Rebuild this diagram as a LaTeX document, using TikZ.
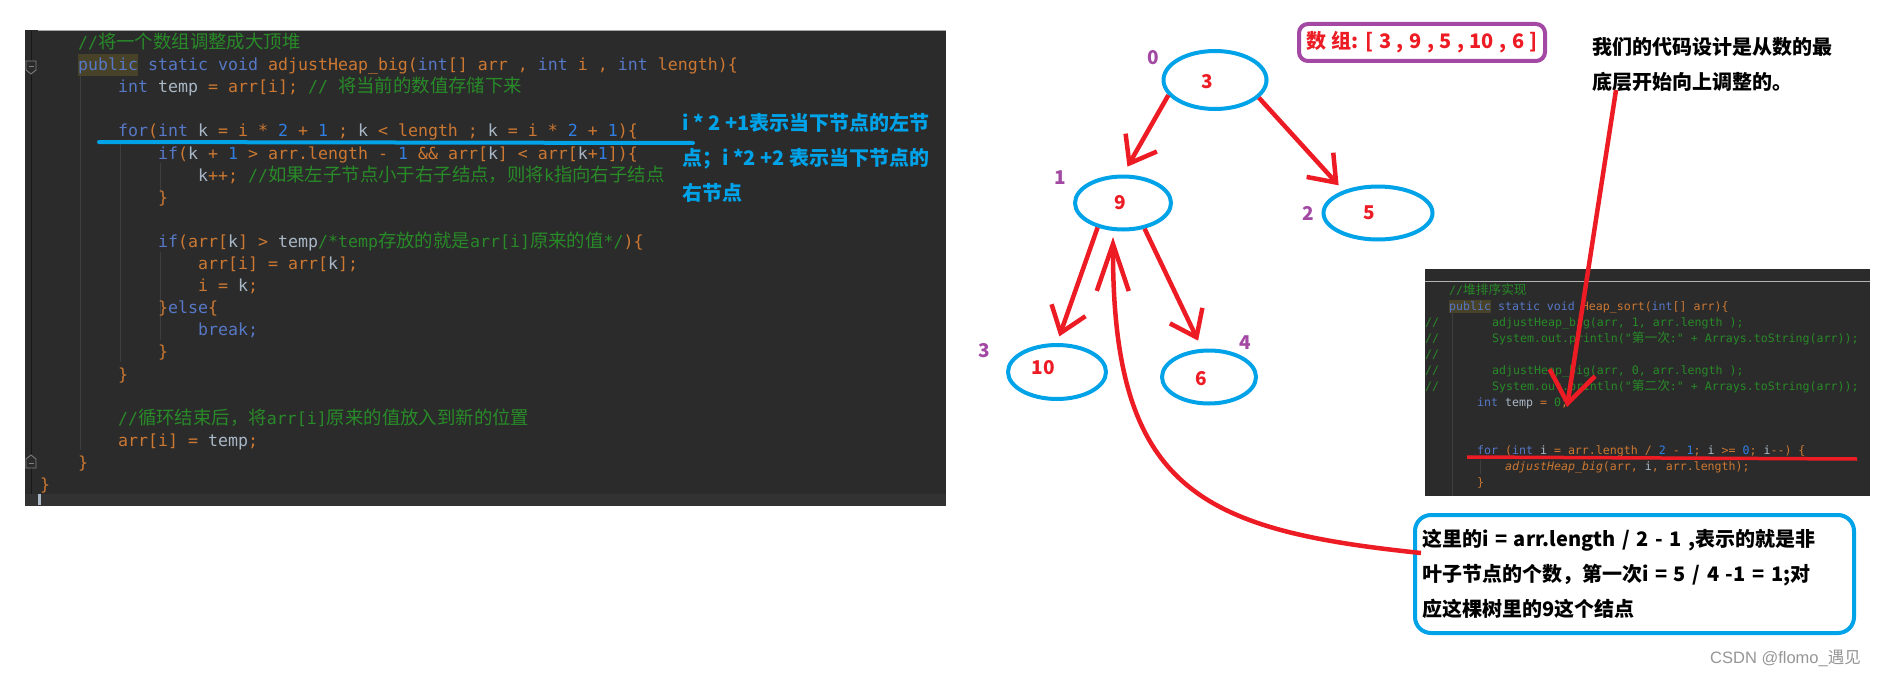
\documentclass[tikz,border=0pt]{standalone}
\usepackage{fontspec}
\setmonofont{DejaVu Sans Mono}[Ligatures=TeXOff]
\newfontfamily\cjk{Noto Sans CJK SC}
\newfontfamily\wmfont{Liberation Sans}
\usetikzlibrary{shapes.geometric,arrows.meta}
\definecolor{codebg}{RGB}{43,43,43}
\definecolor{codeband}{RGB}{50,50,50}
\definecolor{guidec}{RGB}{62,62,62}
\definecolor{kwc}{RGB}{86,120,198}
\definecolor{orc}{RGB}{204,120,50}
\definecolor{whc}{RGB}{169,183,198}
\definecolor{nmc}{RGB}{48,126,228}
\definecolor{cmc}{RGB}{40,138,40}
\definecolor{hlc}{RGB}{72,66,40}
\definecolor{redc}{RGB}{237,28,36}
\definecolor{bluec}{RGB}{0,162,232}
\definecolor{purc}{RGB}{163,73,164}
\definecolor{wmc}{RGB}{150,150,150}
\newcommand\ck[1]{\textcolor{kwc}{#1}}
\newcommand\co[1]{\textcolor{orc}{#1}}
\newcommand\cw[1]{\textcolor{whc}{#1}}
\newcommand\cn[1]{\textcolor{nmc}{#1}}
\newcommand\cg[1]{\textcolor{cmc}{#1}}
\newcommand\zh[1]{{\cjk\fontsize{18.4}{18.4}\selectfont #1}}
\newcommand\zs[1]{{\cjk\fontsize{12.7}{12.7}\selectfont #1}}
\begin{document}
\begin{tikzpicture}[x=1pt,y=-1pt,
  code/.style={anchor=base west, inner sep=0pt, text=orc, font=\ttfamily\fontsize{16.6}{16.6}\selectfont\frenchspacing},
  scode/.style={anchor=base west, inner sep=0pt, text=orc, font=\ttfamily\fontsize{11.6}{11.6}\selectfont\frenchspacing},
  tnode/.style={ellipse, draw=bluec, line width=4pt, inner sep=0pt},
  numlab/.style={text=redc, inner sep=0pt, font=\cjk\bfseries\fontsize{19}{19}\selectfont},
  idx/.style={text=purc, inner sep=0pt, font=\cjk\bfseries\fontsize{19}{19}\selectfont},
  note/.style={inner sep=0pt, align=left, font=\cjk\bfseries\fontsize{20}{35}\selectfont},
  redarrow/.style={draw=redc, line width=4.5pt, -{Straight Barb[length=24pt,width=36pt]}},
  guide/.style={draw=guidec, line width=1pt}
]
\useasboundingbox (0,0) rectangle (1879,677);
\fill[white] (0,0) rectangle (1879,677);

% ---------- main code screenshot ----------
\fill[codebg] (25,30) rectangle (946,506);
\fill[codeband] (25,494) rectangle (946,506);
\draw[gray!70, line width=1pt] (38,30.5) -- (946,30.5);
\draw[draw=guidec!120, line width=1pt] (31,31) -- (31,494);
\draw[gray, line width=0.8pt, fill=codebg] (26,61) -- (36,61) -- (36,70) -- (31,74) -- (26,70) -- cycle;
\draw[gray, line width=0.8pt] (28.5,66) -- (33.5,66);
\draw[gray, line width=0.8pt, fill=codebg] (26,468) -- (36,468) -- (36,459) -- (31,455) -- (26,459) -- cycle;
\draw[gray, line width=0.8pt] (28.5,463) -- (33.5,463);
\fill[whc] (38,494) rectangle (41,505);
\draw[guide] (80,75) -- (80,450);
\draw[guide] (120,140) -- (120,362);
\draw[guide] (160,163) -- (160,193);
\draw[guide] (160,252) -- (160,340);
\fill[hlc] (78,54) rectangle (138,76);

\node[code] (c0) at (78,48.5) {\cg{//\zh{将一个数组调整成大顶堆}}};
\node[code] (c1) at (78,70.6) {\ck{public static void} adjustHeap\_big(\ck{int}[] arr , \ck{int} i , \ck{int} length)\{};
\node[code] (c2) at (118,92.7) {\ck{int} \cw{temp} = arr[i]; \cg{// \zh{将当前的数值存储下来}}};
\node[code] (c4) at (118,136.9) {\ck{for}(\ck{int} \cw{k} = i * \cn{2} + \cn{1} ; \cw{k} < length ; \cw{k} = i * \cn{2} + \cn{1})\{};
\node[code] (c5) at (158,159.0) {\ck{if}(\cw{k} + \cn{1} > arr.length - \cn{1} \&\& arr[\cw{k}] < arr[\cw{k}+\cn{1}])\{};
\node[code] (c6) at (198,181.1) {\cw{k}++; \cg{//\zh{如果左子节点小于右子结点，则将}k\zh{指向右子结点}}};
\node[code] (c7) at (158,203.2) {\}};
\node[code] (c9) at (158,247.4) {\ck{if}(arr[\cw{k}] > \cw{temp}\cg{/*temp\zh{存放的就是}arr[i]\zh{原来的值}*/})\{};
\node[code] (c10) at (198,269.5) {arr[i] = arr[\cw{k}];};
\node[code] (c11) at (198,291.6) {i = \cw{k};};
\node[code] (c12) at (158,313.7) {\}\ck{else}\{};
\node[code] (c13) at (198,335.8) {\ck{break;}};
\node[code] (c14) at (158,357.9) {\}};
\node[code] (c15) at (118,380.0) {\}};
\node[code] (c17) at (118,424.2) {\cg{//\zh{循环结束后，将}arr[i]\zh{原来的值放入到新的位置}}};
\node[code] (c18) at (118,446.3) {arr[i] = \cw{temp};};
\node[code] (c19) at (78,468.4) {\}};
\node[code] (c20) at (40,490.5) {\}};

% blue explanation
\node[note, text=bluec, anchor=west] (bluenote) at (682,158) {i * 2 +1表示当下节点的左节\\点；i *2 +2 表示当下节点的\\右节点};
\coordinate (bl1) at (99,142);
\coordinate (bl2) at (693,143);
\draw[bluec, line width=4pt, line cap=round] (bl1) -- (bl2);

% ---------- small code screenshot ----------
\fill[codebg] (1425,269) rectangle (1870,496);
\draw[gray!60, line width=0.8pt] (1425,281) -- (1870,281);
\draw[guide] (1452,300) -- (1452,496);
\draw[guide] (1480,460) -- (1480,474);
\fill[hlc] (1449,300) rectangle (1491,313);
\node[scode] (s0) at (1449,294) {\cg{//\zs{堆排序实现}}};
\node[scode] (s1) at (1449,310) {\ck{public static void} Heap\_sort(\ck{int}[] arr)\{};
\node[scode, text=cmc] (s2) at (1425,326) {\makebox[67pt][l]{//}adjustHeap\_big(arr, 1, arr.length );};
\node[scode, text=cmc] (s3) at (1425,342) {\makebox[67pt][l]{//}System.out.println("\zs{第一次}:" + Arrays.toString(arr));};
\node[scode, text=cmc] (s4) at (1425,358) {//};
\node[scode, text=cmc] (s5) at (1425,374) {\makebox[67pt][l]{//}adjustHeap\_big(arr, 0, arr.length );};
\node[scode, text=cmc] (s6) at (1425,390) {\makebox[67pt][l]{//}System.out.println("\zs{第二次}:" + Arrays.toString(arr));};
\node[scode] (s7) at (1477,406) {\ck{int} \cw{temp} = \cg{0};};
\node[scode] (s10) at (1477,454) {\ck{for} (\ck{int} \cw{i} = arr.length / \cn{2} - \cn{1}; \cw{i} >= \cn{0}; \cw{i}-{}-) \{};
\node[scode] (s11) at (1505,470) {\textit{adjustHeap\_big}(arr, \cw{i}, arr.length);};
\node[scode] (s12) at (1477,486) {\}};

% ---------- tree ----------
\node[tnode, minimum width=103pt, minimum height=58pt, label={[numlab, xshift=-8pt, yshift=-2pt]center:3}] (n3) at (1215,80) {};
\node[tnode, minimum width=96pt, minimum height=53pt, label={[numlab, xshift=-3pt]center:9}] (n9) at (1123,203) {};
\node[tnode, minimum width=109pt, minimum height=53pt, label={[numlab, xshift=-9pt]center:5}] (n5) at (1378,213) {};
\node[tnode, minimum width=98pt, minimum height=54pt, label={[numlab, xshift=-14pt, yshift=4pt]center:10}] (n10) at (1057,372) {};
\node[tnode, minimum width=94pt, minimum height=53pt, label={[numlab, xshift=-8pt, yshift=-2pt]center:6}] (n6) at (1209,377) {};

\node[idx] (i0) at (1153,58) {0};
\node[idx] (i1) at (1060,178) {1};
\node[idx] (i2) at (1308,213) {2};
\node[idx] (i3) at (984,351) {3};
\node[idx] (i4) at (1245,343) {4};

% array box
\node[draw=purc, line width=4pt, rounded corners=9pt, minimum width=246pt, minimum height=37pt, inner sep=0pt,
      text=redc, font=\cjk\bfseries\fontsize{20}{20}\selectfont] (arr) at (1422,42.5)
      {\spaceskip=5.5pt 数 组: [ 3 , 9 , 5 , 10 , 6 ]};

% top-right note
\node[note, text=black, anchor=west] (topnote) at (1592,64.5) {我们的代码设计是从数的最\\底层开始向上调整的。};

% bottom explanation box
\node[note, draw=bluec, line width=4pt, rounded corners=16pt, text width=425pt, inner xsep=7pt,
      minimum height=118pt, text=black] (expl) at (1634.5,574)
      {这里的i = arr.length / 2 - 1 ,表示的就是非\\叶子节点的个数，第一次i = 5 / 4 -1 = 1;对\\应这棵树里的9这个结点};

% watermark
\node[anchor=west, inner sep=0pt, text=wmc, font=\wmfont\fontsize{16.5}{16.5}\selectfont] (wm) at (1710,658) {CSDN @flomo\_{\cjk 遇见}};

% ---------- red connectors ----------
\draw[redarrow, shorten >=9pt] (n3.198) -- (n9.north);
\draw[redarrow, shorten >=7pt] (n3.338) -- (n5.147);
\draw[redarrow, shorten >=7pt] (n9.224) -- (n10.north);
\draw[redarrow, shorten >=9pt] (n9.310) -- (n6.104);
\draw[draw=redc, line width=4.5pt, -{Straight Barb[length=47pt,width=32pt]}]
  ([xshift=8pt,yshift=21pt]expl.west) .. controls (1200,530) and (1112,490) .. ([xshift=-10pt,yshift=-5.5pt]n9.south);

\coordinate (nstart) at (1616,90);
\coordinate (zero) at (1567,407);
\draw[draw=redc, line width=4.5pt, -{Straight Barb[length=31pt,width=46pt]}] (nstart) -- (zero);

\coordinate (ul1) at (1467,457);
\coordinate (ul2) at (1857,459);
\draw[redc, line width=3.5pt] (ul1) -- (ul2);
\end{tikzpicture}
\end{document}
